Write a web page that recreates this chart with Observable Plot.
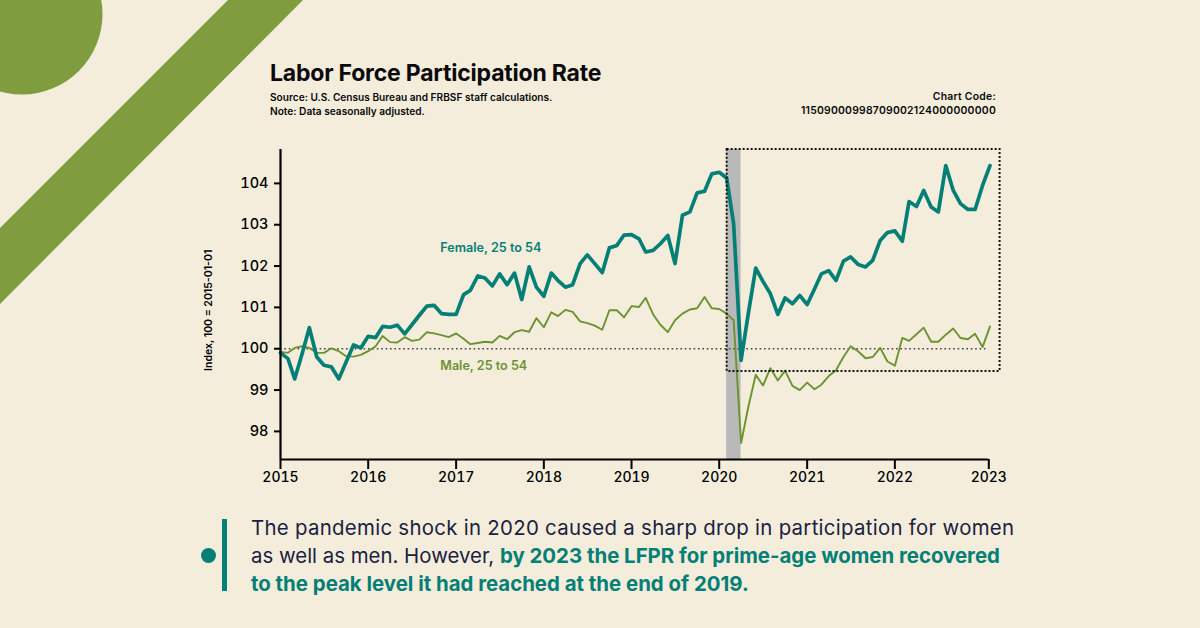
<!DOCTYPE html>
<html>
<head>
<meta charset="utf-8">
<script src="https://cdn.jsdelivr.net/npm/d3@7"></script>
<script src="https://cdn.jsdelivr.net/npm/@observablehq/plot@0.6"></script>
<style>
html,body{margin:0;padding:0;background:#f4eddc;width:1200px;height:628px;overflow:hidden;font-family:Inter,sans-serif;color:#0a0a0a}
.abs{position:absolute;white-space:nowrap}
#deco{position:absolute;left:0;top:0}
#chart{position:absolute;left:200px;top:140px}
#chart svg{overflow:visible;background:transparent}
</style>
</head>
<body>
<svg id="deco" width="1200" height="628"><circle cx="22" cy="14" r="80.5" fill="#7f9c3f"/><polygon points="0,228 228,0 303,0 0,304" fill="#7f9c3f"/></svg>
<div class="abs" style="left:270px;top:59px;font:700 23px/28px Inter,sans-serif;letter-spacing:-.2px">Labor Force Participation Rate</div>
<div class="abs" style="left:270px;top:90px;font:600 10.15px/14px Inter,sans-serif">Source: U.S. Census Bureau and FRBSF staff calculations.<br>Note: Data seasonally adjusted.</div>
<div class="abs" style="right:204px;top:90px;text-align:right;font:600 10.4px/14px Inter,sans-serif;letter-spacing:.24px">Chart Code:<br>11509000998709002124000000000</div>
<div class="abs" style="left:222px;top:519px;width:5px;height:72px;background:#047f76"></div>
<div class="abs" style="left:201px;top:548px;width:15px;height:15px;border-radius:50%;background:#047f76"></div>
<div class="abs" style="left:251px;top:514px;font:400 20.4px/28px Inter,sans-serif;color:#1b2140"><span style="letter-spacing:.29px">The pandemic shock in 2020 caused a sharp drop in participation for women</span><br>as well as men. However, <b style="color:#047f76;font-weight:700">by 2023 the LFPR for prime-age women recovered</b><br><b style="color:#047f76;font-weight:700">to the peak level it had reached at the end of 2019.</b></div>
<div id="chart"></div>
<script>
const start = "2015-01-01";
const female = [99.9,99.76,99.27,99.88,100.51,99.8,99.6,99.56,99.27,99.68,100.09,100.02,
100.3,100.27,100.54,100.52,100.57,100.36,100.58,100.81,101.03,101.05,100.85,100.83,
100.83,101.31,101.41,101.76,101.71,101.52,101.81,101.55,101.83,101.19,101.98,101.49,
101.27,101.83,101.65,101.49,101.55,102.06,102.27,102.06,101.84,102.44,102.5,102.75,
102.76,102.66,102.34,102.38,102.54,102.74,102.06,103.23,103.31,103.77,103.81,104.23,
104.27,104.13,103.02,99.72,100.85,101.95,101.63,101.33,100.83,101.23,101.09,101.29,
101.07,101.45,101.81,101.89,101.65,102.12,102.22,102.04,101.98,102.14,102.62,102.81,
102.85,102.6,103.56,103.44,103.83,103.43,103.31,104.43,103.83,103.51,103.37,103.37,103.95,104.43];
const male = [99.92,99.9,100.02,100.06,100.02,99.9,99.9,100.01,99.94,99.82,99.81,99.85,
99.94,100.06,100.31,100.16,100.15,100.28,100.19,100.22,100.4,100.37,100.33,100.28,
100.37,100.24,100.11,100.14,100.17,100.15,100.31,100.23,100.4,100.45,100.41,100.74,
100.52,100.88,100.79,100.94,100.89,100.66,100.62,100.56,100.46,100.93,100.93,100.76,
101.03,101.01,101.23,100.83,100.58,100.4,100.69,100.85,100.95,100.98,101.25,100.98,
100.96,100.85,100.69,97.72,98.59,99.37,99.11,99.53,99.23,99.47,99.1,99.0,
99.18,99.02,99.13,99.34,99.48,99.8,100.06,99.94,99.77,99.8,100.02,99.69,
99.59,100.26,100.19,100.35,100.51,100.17,100.17,100.34,100.49,100.26,100.23,100.36,100.04,100.54];
const yTicks = [98,99,100,101,102,103,104];
const xTickDates = ["2015-01-01","2016-01-01","2017-01-01","2018-01-01","2019-01-01","2020-01-01","2021-01-01","2022-01-01","2023-01-27"];
const recession = ["2020-02-01","2020-04-01"];
const zoomBox = {x1:"2020-02-03", x2:"2023-03-15", y1:99.45, y2:104.82};
const labels = [{d:"2016-10-27",v:102.43,t:"Female, 25 to 54",c:"#047f76"},{d:"2016-10-27",v:99.58,t:"Male, 25 to 54",c:"#6b9331"}];
const yLabel = ["Index, 100 = 2015-01-01"];

const dates = d3.utcMonth.range(new Date(start), new Date("2023-03-01"));
const rows = (arr) => arr.map((v,i)=>({d:dates[i],v}));
const D = s => new Date(s);
const yDomain=[97.32,104.82];

const plot = Plot.plot({
  width:810,height:350,marginLeft:80,marginRight:20.5,marginTop:9,marginBottom:31,
  style:{background:"transparent",fontFamily:"Inter,sans-serif",overflow:"visible"},
  x:{type:"utc",domain:[D(start),D("2023-02-01")]},
  y:{domain:yDomain},
  marks:[
    Plot.rectX([0],{x1:D(recession[0]),x2:D(recession[1]),y1:yDomain[0],y2:yDomain[1],fill:"#bab9b9"}),
    Plot.ruleY([100],{x1:D(start),x2:D("2023-01-15"),stroke:"#444",strokeWidth:1.6,strokeDasharray:"1.6 2.8"}),
    Plot.line(rows(male),{x:"d",y:"v",stroke:"#6b9331",strokeWidth:1.9,curve:"linear"}),
    Plot.line(rows(female),{x:"d",y:"v",stroke:"#047f76",strokeWidth:3.7,curve:"linear"}),
    Plot.rect([zoomBox],{x1:d=>D(d.x1),x2:d=>D(d.x2),y1:"y1",y2:"y2",fill:"none",stroke:"#111",strokeWidth:2,strokeDasharray:"2 2"}),
    Plot.text(labels,{x:d=>D(d.d),y:"v",text:"t",fill:"c",fontSize:12.6,fontWeight:600,textAnchor:"start"}),
    Plot.ruleX([D(start)],{y1:yDomain[0],y2:yDomain[1],stroke:"#000",strokeWidth:2.2}),
    Plot.ruleY([yDomain[0]],{x1:D(start),x2:D(xTickDates[8]),stroke:"#000",strokeWidth:2.2}),
    Plot.axisX({ticks:xTickDates.map(D),tickFormat:d3.utcFormat("%Y"),tickSize:10,tickPadding:3,fontSize:14,fontWeight:500,strokeWidth:2,stroke:"#000",fill:"#000",label:null}),
    Plot.axisY({ticks:yTicks,tickSize:6,tickPadding:6,fontSize:14.5,fontWeight:500,strokeWidth:2,stroke:"#000",fill:"#000",label:null}),
    Plot.text(yLabel,{x:()=>D(start),y:()=>100.93,dx:-72,rotate:-90,fontSize:10.5,fontWeight:600,fill:"#000"})
  ]
});
document.getElementById("chart").appendChild(plot);
</script>
</body>
</html>
